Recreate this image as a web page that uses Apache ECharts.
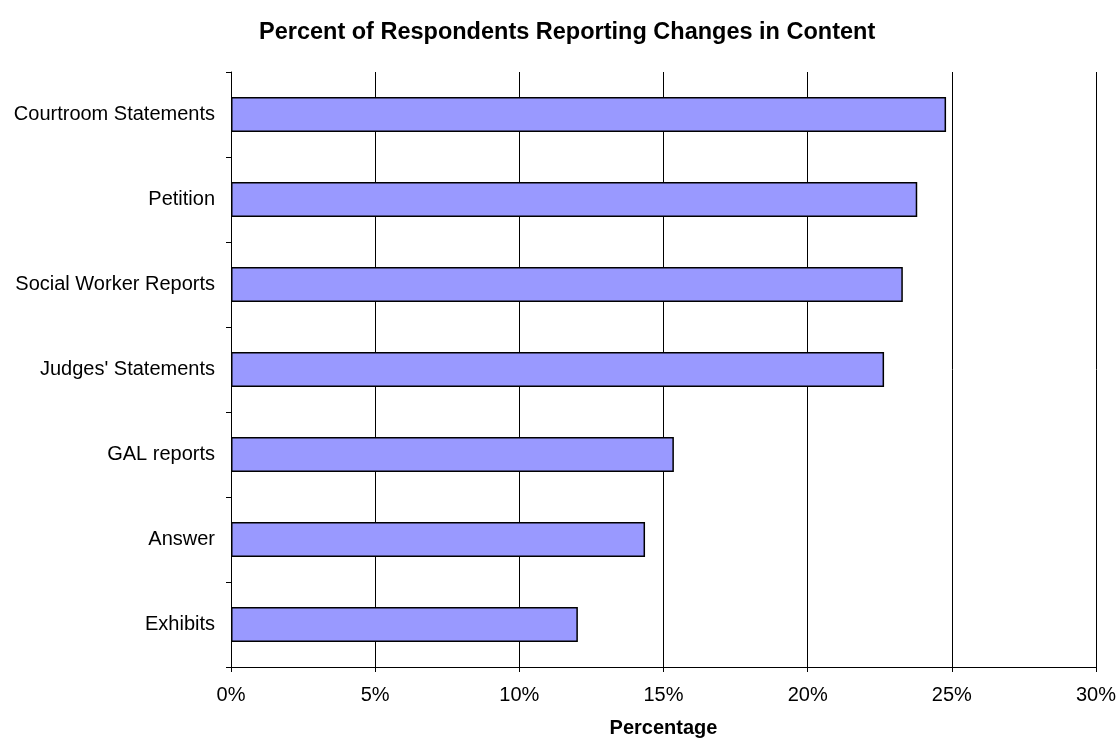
<!DOCTYPE html>
<html>
<head>
<meta charset="utf-8">
<script src="https://cdn.jsdelivr.net/npm/echarts@6/dist/echarts.min.js"></script>
<style>
html, body { margin: 0; padding: 0; background: #fff; }
#chart { width: 1119px; height: 740px; }
</style>
</head>
<body>
<div id="chart"></div>
<script>
// data
var categories = ['Exhibits', 'Answer', 'GAL reports', "Judges' Statements", 'Social Worker Reports', 'Petition', 'Courtroom Statements'];
var percents = [12.03, 14.36, 15.36, 22.65, 23.3, 23.8, 24.8];
var xTicks = [0, 5, 10, 15, 20, 25, 30];

var myChart = echarts.init(document.getElementById('chart'));
var option = {
    backgroundColor: '#ffffff',
    animation: false,
    textStyle: { fontFamily: 'Liberation Sans, Arial, sans-serif', color: '#000' },
    title: {
        text: 'Percent of Respondents Reporting Changes in Content',
        left: 254,
        top: 16,
        textStyle: { fontSize: 23.5, fontWeight: 'bold', color: '#000', fontFamily: 'Liberation Sans, Arial, sans-serif' }
    },
    grid: { left: 231, right: 23, top: 72, bottom: 73, outerBoundsMode: 'none', containLabel: false },
    xAxis: {
        type: 'value',
        min: xTicks[0],
        max: xTicks[xTicks.length - 1],
        interval: 5,
        name: 'Percentage',
        nameLocation: 'middle',
        nameGap: 51,
        nameTextStyle: { fontSize: 20, fontWeight: 'bold', color: '#000' },
        axisLine: { show: true, lineStyle: { color: '#000', width: 1 } },
        axisTick: { show: true, length: 5, lineStyle: { color: '#000' } },
        axisLabel: { formatter: '{value}%', fontSize: 20, color: '#000', margin: 18 },
        splitLine: { show: true, lineStyle: { color: '#000', width: 1 } }
    },
    yAxis: {
        type: 'category',
        data: categories,
        axisLine: { show: true, lineStyle: { color: '#000', width: 1 } },
        axisTick: { show: true, length: 5, lineStyle: { color: '#000' } },
        axisLabel: { fontSize: 20, color: '#000', margin: 16 },
        splitLine: { show: false }
    },
    series: [{
        type: 'bar',
        data: percents,
        barCategoryGap: '59%',
        itemStyle: { color: '#9999ff', borderColor: '#000', borderWidth: 1.5 }
    }]
};
myChart.setOption(option);
</script>
</body>
</html>
